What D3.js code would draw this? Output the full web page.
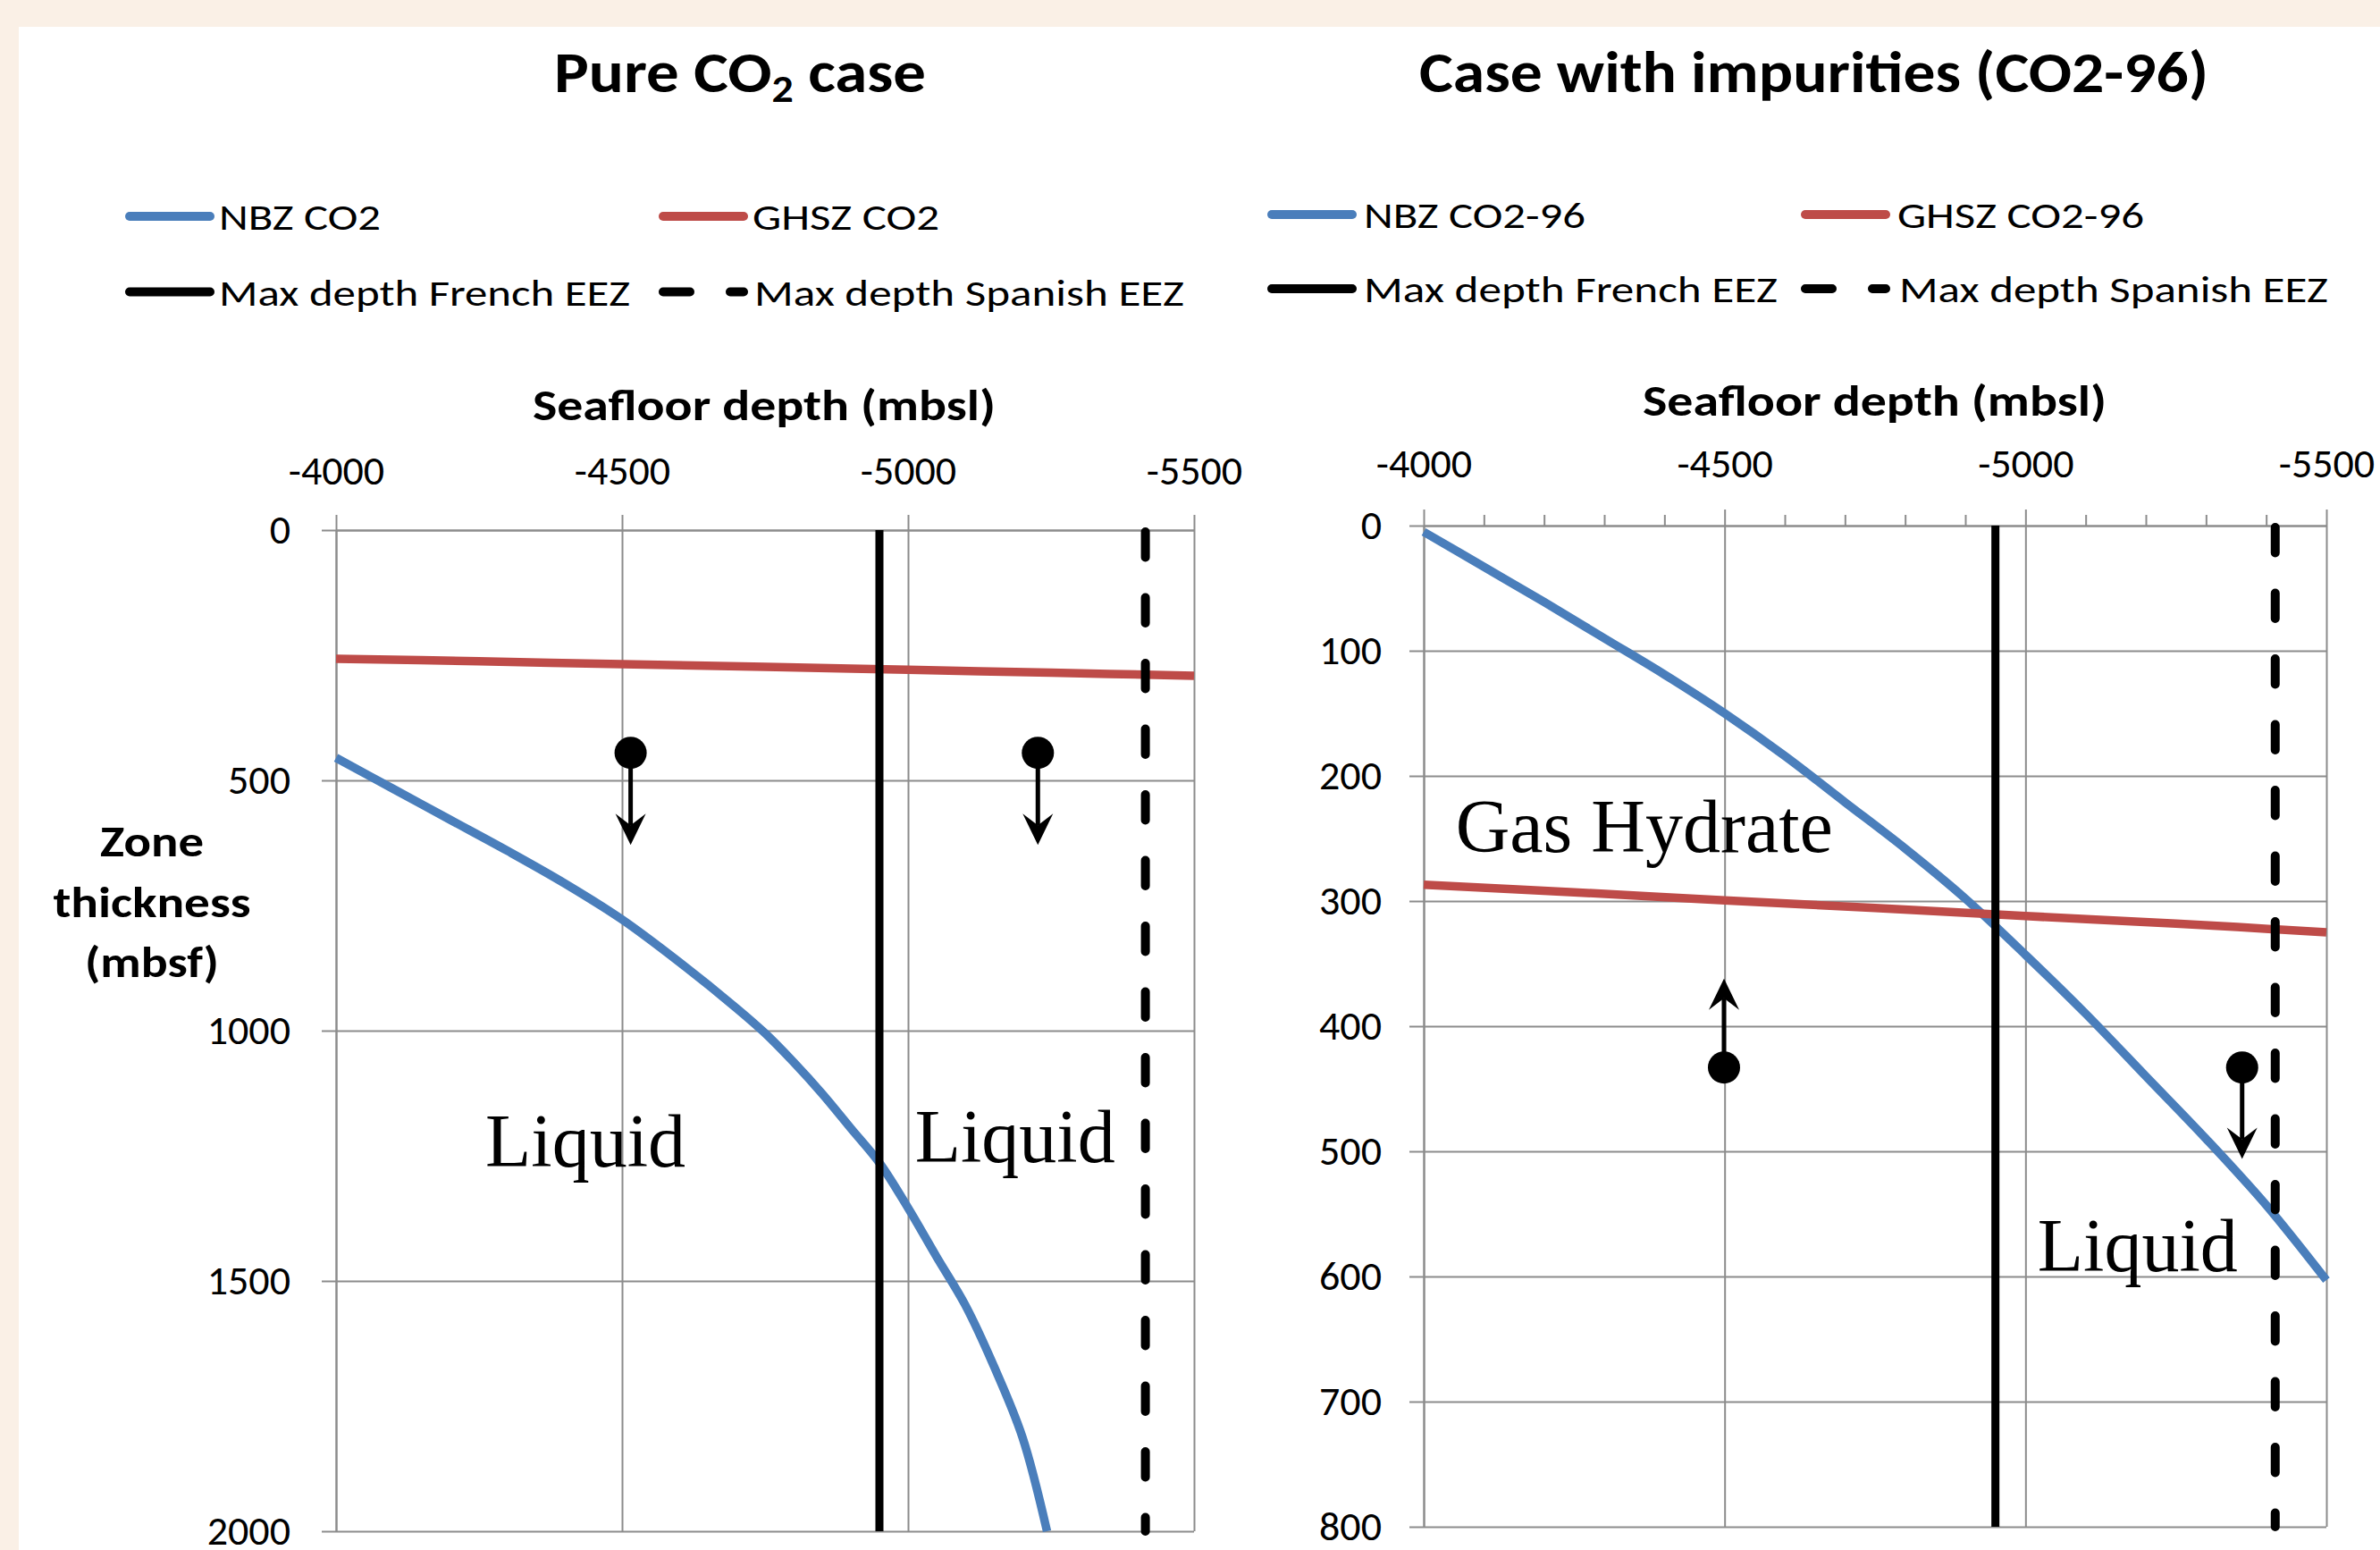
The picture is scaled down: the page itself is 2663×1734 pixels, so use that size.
<!DOCTYPE html>
<html>
<head>
  <meta charset="utf-8">
  <script src="https://d3js.org/d3.v7.min.js"></script>
  <style>
    body { margin: 0; background: #faf0e6; }
    svg { display: block; }
  </style>
</head>
<body>
  <div id="chart"></div>

  <script>
    // ---- data ----
    // seafloor depth (mbsl) on x, zone thickness (mbsf) on y

    // Pure CO2 case
    const pureNbzDepth = [-4000, -4100, -4200, -4300, -4400, -4500, -4600, -4700, -4750, -4800,
                          -4850, -4900, -4950, -5000, -5050, -5100, -5150, -5200, -5243];
    const pureNbz      = [455, 517, 579, 641, 706, 778, 863, 955, 1005, 1063,
                          1126, 1195, 1264, 1354, 1452, 1548, 1670, 1812, 2000];
    const pureGhszDepth = [-4000, -4250, -4500, -4750, -5000, -5250, -5500];
    const pureGhsz      = [257, 262, 268, 273, 279, 285, 291];

    // Case with impurities (CO2-96)
    const impNbzDepth = [-4000, -4100, -4200, -4300, -4400, -4500, -4600, -4700, -4800,
                         -4900, -5000, -5100, -5200, -5300, -5400, -5500];
    const impNbz      = [5, 33, 61, 90, 119, 150, 184, 221, 258,
                         298, 343, 390, 440, 490, 543, 603];
    const impGhszDepth = [-4000, -4250, -4500, -4750, -5000, -5250, -5500];
    const impGhsz      = [287, 293, 299.5, 305.5, 312, 318, 325];

    // maximum depths of the EEZs
    const frenchEEZ = -4950;
    const spanishEEZ = -5415;

    // ticks
    const xTicks = [-4000, -4500, -5000, -5500];
    const xMinorTicks = [-4100, -4200, -4300, -4400, -4600, -4700, -4800, -4900,
                         -5100, -5200, -5300, -5400];
    const pureYTicks = [0, 500, 1000, 1500, 2000];
    const impYTicks = [0, 100, 200, 300, 400, 500, 600, 700, 800];

    const W = 2663, H = 1734;
    const BLUE = "#4a7ebb", RED = "#be4b48", GRID = "#8c8c8c";
    const SANS = "Carlito, Calibri, Lato, sans-serif";
    const SERIF = "'Times New Roman', 'Liberation Serif', serif";

    const svg = d3.select("#chart").append("svg")
      .attr("width", W).attr("height", H);

    svg.append("rect").attr("width", W).attr("height", H).attr("fill", "#faf0e6");
    svg.append("rect").attr("x", 21).attr("y", 30)
      .attr("width", W - 21).attr("height", H - 30).attr("fill", "#fff");

    const panels = [
      {
        left: 376, right: 1336, top: 593, bottom: 1713, yMax: 2000, yTicks: pureYTicks,
        minor: false, xTickLen: 17, xPad: 34, yPad: 35,
        title: ["Pure CO", "2", " case"], titleX: 620, titleLen: 416,
        names: ["NBZ CO2", "GHSZ CO2", "Max depth French EEZ", "Max depth Spanish EEZ"],
        legend: { x1: 140, x2: 737, rows: [242, 326.5], lens: [181, 209, 460, 481], textX: [245, 842, 245, 844] },
        xTitle: { x: 596, y: 470, len: 518 },
        nbz: [pureNbzDepth, pureNbz], ghsz: [pureGhszDepth, pureGhsz],
        arrows: [{ x: -4515, from: 445, to: 629 }, { x: -5227, from: 445, to: 629 }],
        labels: [{ text: "Liquid", x: -4261, y: 1271 }, { text: "Liquid", x: -5012, y: 1262 }]
      },
      {
        left: 1593, right: 2603, top: 588, bottom: 1708, yMax: 800, yTicks: impYTicks,
        minor: true, xTickLen: 18, xPad: 36, yPad: 31,
        title: ["Case with impurities (CO2-96)"], titleX: 1588, titleLen: 883,
        names: ["NBZ CO2-96", "GHSZ CO2-96", "Max depth French EEZ", "Max depth Spanish EEZ"],
        legend: { x1: 1418, x2: 2015, rows: [240, 323], lens: [248, 276, 463, 480], textX: [1526, 2123, 1526, 2125] },
        xTitle: { x: 1838, y: 465, len: 519 },
        nbz: [impNbzDepth, impNbz], ghsz: [impGhszDepth, impGhsz],
        arrows: [{ x: -4499, from: 433, to: 362 }, { x: -5360, from: 433, to: 506 }],
        labels: [{ text: "Gas Hydrate", x: -4053, y: 261 }, { text: "Liquid", x: -5020, y: 596 }]
      }
    ];

    panels.forEach(drawPanel);

    // y axis title of the left chart
    [["Zone", 958, 116], ["thickness", 1026, 221], ["(mbsf)", 1093, 150]].forEach(([t, y, len]) => {
      svg.append("text")
        .attr("x", 170).attr("y", y)
        .attr("font-family", SANS).attr("font-weight", "bold").attr("font-size", 48)
        .attr("text-anchor", "middle")
        .attr("textLength", len).attr("lengthAdjust", "spacingAndGlyphs")
        .text(t);
    });

    function drawPanel(p) {
      const x = d3.scaleLinear().domain([-4000, -5500]).range([p.left, p.right]);
      const y = d3.scaleLinear().domain([0, p.yMax]).range([p.top, p.bottom]);
      const g = svg.append("g");

      // gridlines
      g.append("g").attr("transform", `translate(0,${p.top})`)
        .call(d3.axisTop(x).tickValues(xTicks).tickSize(-(p.bottom - p.top)).tickFormat(""))
        .call(s => s.select(".domain").remove());
      g.append("g").attr("transform", `translate(${p.left},0)`)
        .call(d3.axisLeft(y).tickValues(p.yTicks).tickSize(-(p.right - p.left)).tickFormat(""))
        .call(s => s.select(".domain").remove());

      // top x axis
      const xa = g.append("g").attr("transform", `translate(0,${p.top})`)
        .call(d3.axisTop(x).tickValues(xTicks).tickSize(p.xTickLen).tickSizeOuter(0)
          .tickPadding(p.xPad).tickFormat(d => String(d)));
      if (p.minor) {
        g.append("g").attr("transform", `translate(0,${p.top})`)
          .call(d3.axisTop(x).tickValues(xMinorTicks).tickSize(12).tickFormat(""))
          .call(s => s.select(".domain").remove());
      }
      // left y axis
      const ya = g.append("g").attr("transform", `translate(${p.left},0)`)
        .call(d3.axisLeft(y).tickValues(p.yTicks).tickSize(16).tickSizeOuter(0)
          .tickPadding(p.yPad).tickFormat(d => String(d)));

      g.selectAll(".tick line, .domain").attr("stroke", GRID).attr("stroke-width", 2);
      [xa, ya].forEach(a => a.attr("font-family", SANS).attr("font-size", 46)
        .selectAll("text").attr("fill", "#000"));

      // curves
      const line = d3.line().x(d => x(d[0])).y(d => y(d[1])).curve(d3.curveCatmullRom.alpha(0.5));
      const nbz = d3.zip(p.nbz[0], p.nbz[1]);
      const ghsz = d3.zip(p.ghsz[0], p.ghsz[1]);
      g.append("path").datum(nbz).attr("d", line)
        .attr("fill", "none").attr("stroke", BLUE).attr("stroke-width", 9.5);
      g.append("path").datum(ghsz).attr("d", line)
        .attr("fill", "none").attr("stroke", RED).attr("stroke-width", 9.5);

      // EEZ limits
      g.append("line")
        .attr("x1", x(frenchEEZ)).attr("x2", x(frenchEEZ))
        .attr("y1", y(0)).attr("y2", y(p.yMax))
        .attr("stroke", "#000").attr("stroke-width", 9);
      g.append("line")
        .attr("x1", x(spanishEEZ)).attr("x2", x(spanishEEZ))
        .attr("y1", y(0) + 2).attr("y2", y(p.yMax))
        .attr("stroke", "#000").attr("stroke-width", 10)
        .attr("stroke-linecap", "round").attr("stroke-dasharray", "28.5,45");

      // arrows with dots
      p.arrows.forEach(a => {
        const cx = x(a.x), y0 = y(a.from), y1 = y(a.to);
        const dir = y1 > y0 ? 1 : -1;
        g.append("line")
          .attr("x1", cx).attr("x2", cx).attr("y1", y0).attr("y2", y1 - dir * 22)
          .attr("stroke", "#000").attr("stroke-width", 5);
        g.append("path")
          .attr("d", `M${cx},${y1} L${cx - 17},${y1 - dir * 35} L${cx},${y1 - dir * 22} L${cx + 17},${y1 - dir * 35} Z`)
          .attr("fill", "#000");
        g.append("circle").attr("cx", cx).attr("cy", y0).attr("r", 18).attr("fill", "#000");
      });

      // region labels
      p.labels.forEach(l => {
        g.append("text")
          .attr("x", x(l.x)).attr("y", y(l.y))
          .attr("font-family", SERIF).attr("font-size", 84)
          .text(l.text);
      });

      // chart title
      const t = svg.append("text")
        .attr("x", p.titleX).attr("y", 103)
        .attr("font-family", SANS).attr("font-weight", "bold").attr("font-size", 64)
        .attr("textLength", p.titleLen).attr("lengthAdjust", "spacingAndGlyphs");
      if (p.title.length === 3) {
        t.append("tspan").text(p.title[0]);
        t.append("tspan").attr("font-size", 42).attr("dy", 11).text(p.title[1]);
        t.append("tspan").attr("dy", -11).text(p.title[2]);
      } else {
        t.text(p.title[0]);
      }

      // x axis title
      svg.append("text")
        .attr("x", p.xTitle.x).attr("y", p.xTitle.y)
        .attr("font-family", SANS).attr("font-weight", "bold").attr("font-size", 48)
        .attr("textLength", p.xTitle.len).attr("lengthAdjust", "spacingAndGlyphs")
        .text("Seafloor depth (mbsl)");

      // legend
      const L = p.legend;
      const styles = [
        { stroke: BLUE, dash: null },
        { stroke: RED, dash: null },
        { stroke: "#000", dash: null },
        { stroke: "#000", dash: "30,45" }
      ];
      p.names.forEach((name, i) => {
        const lx = i % 2 === 0 ? L.x1 : L.x2;
        const ly = L.rows[Math.floor(i / 2)];
        svg.append("line")
          .attr("x1", lx + 5).attr("x2", lx + 95).attr("y1", ly).attr("y2", ly)
          .attr("stroke", styles[i].stroke).attr("stroke-width", 10)
          .attr("stroke-linecap", "round")
          .attr("stroke-dasharray", styles[i].dash);
        svg.append("text")
          .attr("x", L.textX[i]).attr("y", ly + 15)
          .attr("font-family", SANS).attr("font-size", 41)
          .attr("textLength", L.lens[i]).attr("lengthAdjust", "spacingAndGlyphs")
          .text(name);
      });
    }
  </script>
</body>
</html>
